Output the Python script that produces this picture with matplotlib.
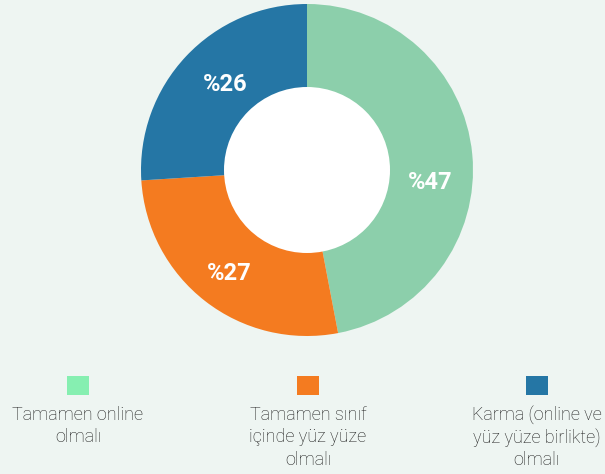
import numpy as np
import matplotlib
matplotlib.use("Agg")
import matplotlib.pyplot as plt
from matplotlib.patches import Rectangle, Circle

# Survey answers: preferred mode of teaching
categories = ["Tamamen online\nolmalı",
              "Tamamen sınıf\niçinde yüz yüze\nolmalı",
              "Karma (online ve\nyüz yüze birlikte)\nolmalı"]
values = [47, 27, 26]
value_labels = ["%47", "%27", "%26"]

slice_colors = ["#8ccfab", "#f47b20", "#2576a5"]
legend_colors = ["#86efb1", "#f47b20", "#2576a5"]
bg = "#eef5f2"
text_color = "#1e1e1e"

# label placement tweaks (degrees relative to slice middle, radius in outer-radius units)
label_nudge_deg = [-11, 1, -3]
label_radius = [0.745, 0.78, 0.71]

W, H = 605, 474
fig = plt.figure(figsize=(W / 100, H / 100), dpi=100, facecolor=bg)

# donut axes: centre (307,170) px, outer radius 166 px
cx, cy, R = 307, 170, 166
ax = fig.add_axes([(cx - R) / W, (H - cy - R) / H, 2 * R / W, 2 * R / H])
ax.set_facecolor(bg)
wedges, _ = ax.pie(values, colors=slice_colors, startangle=90, counterclock=False,
                   radius=1.0, wedgeprops=dict(width=1.0, linewidth=0))
ax.add_patch(Circle((0, 0), 0.5, facecolor="white", edgecolor="none", zorder=3))
ax.set_xlim(-1, 1)
ax.set_ylim(-1, 1)
ax.set_aspect("equal")
ax.axis("off")

for w, lab, dn, r in zip(wedges, value_labels, label_nudge_deg, label_radius):
    mid = np.deg2rad((w.theta1 + w.theta2) / 2 + dn)
    ax.text(r * np.cos(mid), r * np.sin(mid), lab, ha="center", va="center",
            color="white", fontsize=17, fontweight="bold", family="Roboto", zorder=4)

# legend drawn in pixel coordinates below the donut
lg = fig.add_axes([0, 0, 1, 1], facecolor="none")
lg.set_xlim(0, W)
lg.set_ylim(H, 0)
lg.axis("off")
legend_x = [78, 308, 537]
for x, col, cat in zip(legend_x, legend_colors, categories):
    lg.add_patch(Rectangle((x - 11, 376), 22, 19, facecolor=col, edgecolor="none"))
    for i, line in enumerate(cat.split("\n")):
        lg.text(x, 420 + i * 22.5, line, ha="center", va="baseline",
                fontsize=13, family="Roboto", fontweight="light", color=text_color)

fig.savefig("out.png", dpi=100, facecolor=bg)
